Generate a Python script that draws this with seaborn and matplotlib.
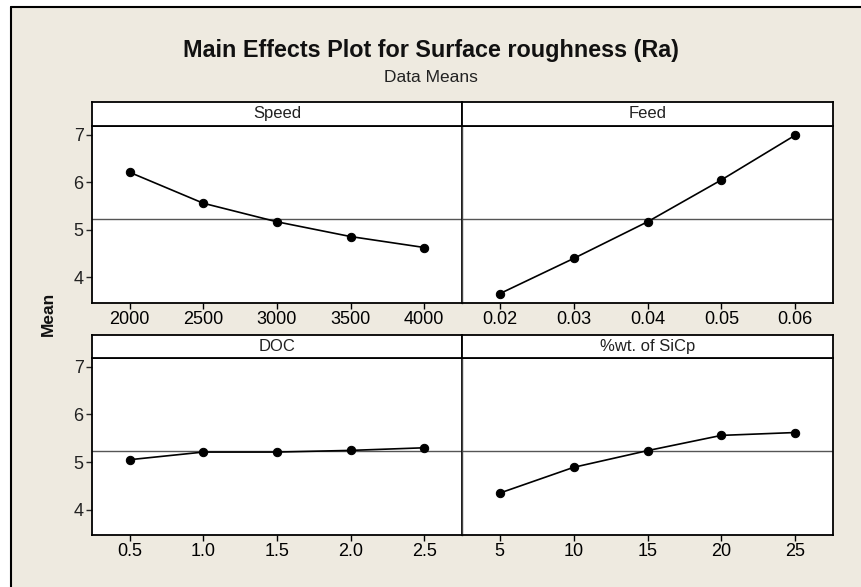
import matplotlib
matplotlib.use("Agg")
import matplotlib.pyplot as plt
import pandas as pd
import seaborn as sns
from matplotlib.patches import Rectangle
from matplotlib.lines import Line2D

# factor levels and data means
speed_levels = [2000, 2500, 3000, 3500, 4000]
speed_means = [6.21, 5.56, 5.17, 4.86, 4.63]

feed_levels = [0.02, 0.03, 0.04, 0.05, 0.06]
feed_means = [3.66, 4.40, 5.17, 6.05, 6.99]

doc_levels = [0.5, 1.0, 1.5, 2.0, 2.5]
doc_means = [5.05, 5.21, 5.21, 5.245, 5.30]

sicp_levels = [5, 10, 15, 20, 25]
sicp_means = [4.35, 4.89, 5.24, 5.56, 5.62]

grand_mean = 5.225

speed_ticks = ["2000", "2500", "3000", "3500", "4000"]
feed_ticks = ["0.02", "0.03", "0.04", "0.05", "0.06"]
doc_ticks = ["0.5", "1.0", "1.5", "2.0", "2.5"]
sicp_ticks = ["5", "10", "15", "20", "25"]

sns.set_style("white")
plt.rcParams['font.family'] = ['Liberation Sans', 'DejaVu Sans']

W, H = 862, 587
fig = plt.figure(figsize=(W / 100, H / 100), dpi=100)
fig.patch.set_facecolor("white")

# beige background with black top/left border
bg = "#EEEAE0"
fig.patches.append(Rectangle((11 / W, 0), 1 - 11 / W, 1 - 7 / H, transform=fig.transFigure,
                             facecolor=bg, edgecolor="none", zorder=-10))
fig.lines.append(Line2D([11 / W, 1], [1 - 7 / H, 1 - 7 / H], transform=fig.transFigure, color="black", lw=1.5))
fig.lines.append(Line2D([11 / W, 11 / W], [0, 1 - 7 / H], transform=fig.transFigure, color="black", lw=1.5))

fig.text(0.5, 1 - 51 / H, "Main Effects Plot for Surface roughness (Ra)", ha="center", va="center",
         fontsize=16.8, fontweight="bold", color="#111111")
fig.text(0.5, 1 - 78 / H, "Data Means", ha="center", va="center", fontsize=12.5, color="#222222")
fig.text(48 / W, 1 - 314 / H, "Mean", ha="center", va="center", rotation=90, fontsize=12.5,
         fontweight="bold", color="#111111")

panels = [
    ("Speed", speed_levels, speed_means, speed_ticks, 92, 462, 125.7, 302.7),
    ("Feed", feed_levels, feed_means, feed_ticks, 462, 833, 125.7, 302.7),
    ("DOC", doc_levels, doc_means, doc_ticks, 92, 462, 357.7, 535),
    ("%wt. of SiCp", sicp_levels, sicp_means, sicp_ticks, 462, 833, 357.7, 535),
]

for i, (name, lv, mv, tl, x0, x1, ytop, ybot) in enumerate(panels):
    ax = fig.add_axes([x0 / W, 1 - ybot / H, (x1 - x0) / W, (ybot - ytop) / H])
    df = pd.DataFrame({"level": lv, "mean": mv})
    ax.axhline(grand_mean, color="#555555", lw=1.0, zorder=1)
    sns.lineplot(data=df, x="level", y="mean", ax=ax, color="black", lw=1.2,
                 marker="o", markersize=6, markeredgecolor="black", zorder=3)
    span = lv[-1] - lv[0]
    ax.set_xlim(lv[0] - 0.128 * span, lv[-1] + 0.128 * span)
    ax.set_ylim(3.47, 7.19)
    ax.set_xticks(lv)
    ax.set_xticklabels(tl, fontsize=13, color="#222222")
    ax.set_xlabel("")
    ax.set_ylabel("")
    ax.set_facecolor("white")
    for s in ax.spines.values():
        s.set_color("black")
        s.set_linewidth(1.3)
    ax.tick_params(axis="x", direction="out", length=4, width=1, bottom=True, pad=2, colors="black")
    if i % 2 == 0:
        ax.set_yticks([4, 5, 6, 7])
        ax.set_yticklabels(["4", "5", "6", "7"], fontsize=13, color="#222222")
        ax.tick_params(axis="y", direction="out", length=4, width=1, left=True, pad=2)
    else:
        ax.set_yticks([])
        ax.spines["left"].set_color("#444444")
        ax.spines["left"].set_linewidth(1.0)

    # strip header above each panel
    stop = 102 if ytop < 200 else 334.7
    sax = fig.add_axes([x0 / W, 1 - ytop / H, (x1 - x0) / W, (ytop - stop) / H])
    sax.set_facecolor("white")
    sax.set_xticks([])
    sax.set_yticks([])
    for s in sax.spines.values():
        s.set_color("black")
        s.set_linewidth(1.3)
    sax.text(0.5, 0.5, name, ha="center", va="center", fontsize=12, color="#222222",
             transform=sax.transAxes)

fig.savefig("out.png", dpi=100)
